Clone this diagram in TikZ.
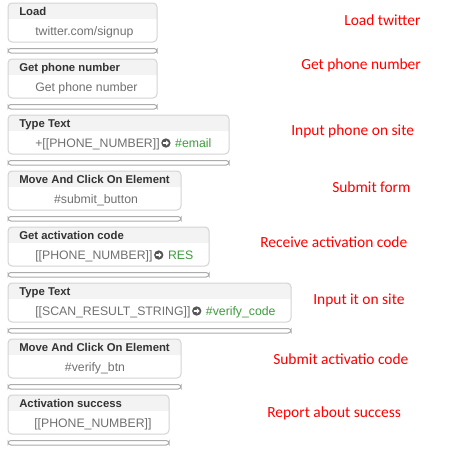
\documentclass[tikz,border=0pt]{standalone}
\usepackage{fontspec}
\setmainfont{Liberation Sans}
\newfontfamily\notefont{Carlito}
\usetikzlibrary{calc}
\definecolor{hdrcol}{HTML}{333333}
\definecolor{bodycol}{HTML}{707070}
\definecolor{greencol}{HTML}{3D9B3D}
\definecolor{iconcol}{HTML}{555555}
\definecolor{boxcol}{HTML}{D3D3D3}
\definecolor{hdrfill}{HTML}{F3F3F3}
\definecolor{barcol}{HTML}{ABABAB}
\definecolor{notecol}{HTML}{FF0000}
\newcommand\flowstep[4]{%
  \begin{scope}
    \clip[rounded corners=3] (8,#2) rectangle (#3,#2+39);
    \fill[hdrfill] (8,#2) rectangle (#3,#2+16);
  \end{scope}
  \draw[boxcol, line width=0.75pt, rounded corners=3] (8,#2) rectangle (#3,#2+39);
  \node[hdrtext] (#1h) at (19,#2+12) {#4};
  \draw[barcol, line width=0.75pt, rounded corners=2.2, fill=white] (8,#2+45.5) rectangle (#3,#2+50);
}
\newcommand\arrowicon[1]{%
  \begin{scope}[shift={(#1.center)}]
    \fill[white] (-2.8,-0.9) -- (0.2,-0.9) -- (0.2,-2.6) -- (2.9,0) -- (0.2,2.6) -- (0.2,0.9) -- (-2.8,0.9) -- cycle;
  \end{scope}
}
\begin{document}
\begin{tikzpicture}[x=0.75pt,y=-0.75pt,
  hdrtext/.style={font=\fontsize{8.5}{10}\selectfont\bfseries, text=hdrcol, inner sep=0, anchor=base west},
  bodytext/.style={font=\fontsize{9.2}{11}\selectfont, text=bodycol, inner sep=0, anchor=base west},
  greentext/.style={bodytext, text=greencol},
  note/.style={font=\notefont\fontsize{11.6}{14}\selectfont, text=notecol, inner sep=0, anchor=base west},
  icon/.style={circle, fill=iconcol, minimum size=7pt, inner sep=0}]
\useasboundingbox (0,0) rectangle (460,450);

% step boxes
\flowstep{s1}{3}{157}{Load}
\flowstep{s2}{59}{157}{Get phone number}
\flowstep{s3}{115}{229}{Type Text}
\flowstep{s4}{171}{181}{Move And Click On Element}
\flowstep{s5}{227}{209}{Get activation code}
\flowstep{s6}{283}{291}{Type Text}
\flowstep{s7}{339}{181}{Move And Click On Element}
\flowstep{s8}{395}{169}{Activation success}

% bodies
\node[bodytext] (b1) at (35,35.4) {twitter.com/signup};
\node[bodytext] (b2) at (35,91.4) {Get phone number};

\node[bodytext] (b3a) at (35,147.4) {+[[PHONE\_NUMBER]]};
\node[icon] (b3i) at ($(b3a.base east)+(6,-4.4)$) {};
\arrowicon{b3i}
\node[greentext] (b3b) at ($(b3i.center |- b3a.base)+(9,0)$) {\#email};

\node[bodytext, anchor=base] (b4) at (96,203.4) {\#submit\_button};

\node[bodytext] (b5a) at (35,259.4) {[[PHONE\_NUMBER]]};
\node[icon] (b5i) at ($(b5a.base east)+(6,-4.4)$) {};
\arrowicon{b5i}
\node[greentext] (b5b) at ($(b5i.center |- b5a.base)+(9,0)$) {RES};

\node[bodytext] (b6a) at (35,315.4) {[[SCAN\_RESULT\_STRING]]};
\node[icon] (b6i) at ($(b6a.base east)+(6,-4.4)$) {};
\arrowicon{b6i}
\node[greentext] (b6b) at ($(b6i.center |- b6a.base)+(9,0)$) {\#verify\_code};

\node[bodytext, anchor=base] (b7) at (95,371.4) {\#verify\_btn};
\node[bodytext] (b8) at (34,427.4) {[[PHONE\_NUMBER]]};

% notes
\node[note] (n1) at (344,25) {Load twitter};
\node[note] (n2) at (301,69) {Get phone number};
\node[note] (n3) at (291,135) {Input phone on site};
\node[note] (n4) at (332,192) {Submit form};
\node[note] (n5) at (260,247) {Receive activation code};
\node[note] (n6) at (313,304) {Input it on site};
\node[note] (n7) at (273,364) {Submit activatio code};
\node[note] (n8) at (267,417) {Report about success};
\end{tikzpicture}
\end{document}
